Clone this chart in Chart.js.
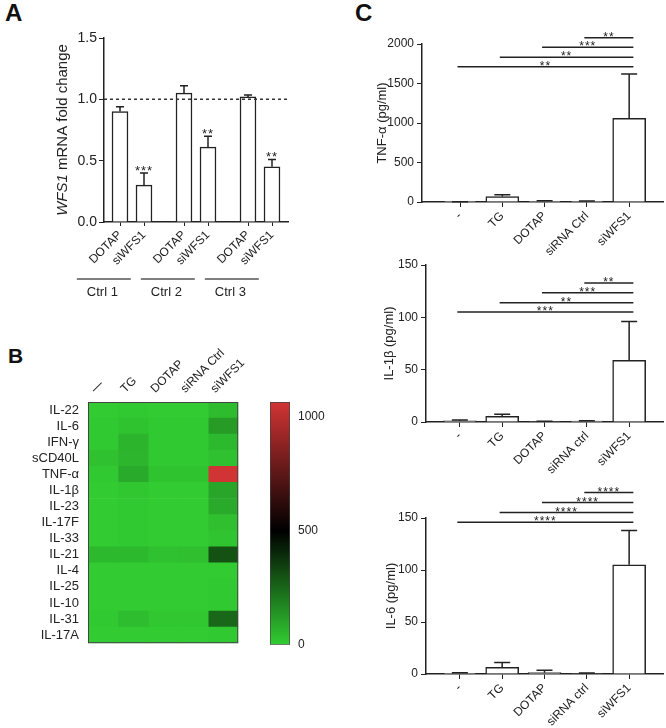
<!DOCTYPE html>
<html>
<head>
<meta charset="utf-8">
<title>WFS1 knockdown and cytokine release</title>
<script src="https://cdn.jsdelivr.net/npm/chart.js"></script>
<style>
  body { margin: 0; background: #fff; width: 666px; height: 728px; position: relative; overflow: hidden;
         font-family: "Liberation Sans", Arial, sans-serif; }
  canvas { position: absolute; }
  .tag { position: absolute; font-weight: bold; color: #111; }
</style>
</head>
<body>
<div class="tag" style="left:5px;top:1px;font-size:24px;line-height:24px">A</div>
<div class="tag" style="left:8px;top:345px;font-size:21px;line-height:21px">B</div>
<div class="tag" style="left:355px;top:1px;font-size:24px;line-height:24px">C</div>

<canvas id="chartA" width="340" height="310" style="left:0;top:0"></canvas>
<canvas id="chartB" width="260" height="330" style="left:0;top:330px"></canvas>
<canvas id="chartBar" width="80" height="330" style="left:260px;top:330px"></canvas>
<canvas id="chartTnf" width="326" height="260" style="left:340px;top:0"></canvas>
<canvas id="chartIl1b" width="326" height="250" style="left:340px;top:240px"></canvas>
<canvas id="chartIl6" width="326" height="258" style="left:340px;top:470px"></canvas>

<script>
Chart.defaults.font.family = '"Liberation Sans", Arial, sans-serif';
Chart.defaults.color = '#222';
Chart.defaults.animation = false;
Chart.defaults.plugins.legend.display = false;
Chart.defaults.plugins.tooltip.enabled = false;

// ---------- panel A : WFS1 mRNA fold change
const aGroups = ['Ctrl 1', 'Ctrl 2', 'Ctrl 3'];
const aTreat = ['DOTAP', 'siWFS1'];
const aMean = [0.90, 0.30, 1.05, 0.61, 1.02, 0.45];
const aErr = [0.04, 0.10, 0.06, 0.09, 0.015, 0.06];
const aStars = ['', '***', '', '**', '', '**'];
const aTicks = [0, 0.5, 1.0, 1.5];

// ---------- panel B : heatmap (pg/ml)
const hmRows = ['IL-22', 'IL-6', 'IFN-γ', 'sCD40L', 'TNF-α', 'IL-1β', 'IL-23', 'IL-17F', 'IL-33', 'IL-21', 'IL-4', 'IL-25', 'IL-10', 'IL-31', 'IL-17A'];
const hmCols = ['—', 'TG', 'DOTAP', 'siRNA Ctrl', 'siWFS1'];
const hmNone   = [5, 10, 10, 30, 10, 5, 5, 5, 5, 50, 5, 5, 5, 10, 5];
const hmTG     = [10, 25, 60, 55, 85, 15, 10, 10, 10, 50, 5, 5, 5, 40, 5];
const hmDOTAP  = [5, 10, 10, 10, 25, 5, 5, 5, 5, 30, 5, 5, 5, 15, 5];
const hmSiCtrl = [5, 10, 10, 10, 25, 5, 5, 5, 5, 35, 5, 5, 5, 15, 5];
const hmSiWFS1 = [45, 120, 50, 30, 1060, 95, 85, 35, 20, 300, 5, 10, 10, 250, 10];
const cbMax = 1065;
const cbTicks = [0, 500, 1000];

// ---------- panel C : cytokines (pg/ml)
const cLabelsTnf = ['-', 'TG', 'DOTAP', 'siRNA Ctrl', 'siWFS1'];
const cLabels = ['-', 'TG', 'DOTAP', 'siRNA ctrl', 'siWFS1'];

const tnfMean = [2, 70, 8, 10, 1060];
const tnfErr = [1, 22, 7, 4, 560];
const tnfTicks = [0, 500, 1000, 1500, 2000];
const tnfSig = [1713, 1832, 1958, 2080];      // vs siWFS1, from '-', TG, DOTAP, siRNA
const tnfStars = ['**', '**', '***', '**'];

const il1bMean = [1, 5.5, 0.5, 0.8, 59];
const il1bErr = [0.8, 1.8, 0.3, 0.4, 37];
const il1bTicks = [0, 50, 100, 150];
const il1bSig = [105, 114, 123.5, 132.8];
const il1bStars = ['***', '**', '***', '**'];

const il6Mean = [0.7, 6.5, 1.3, 0.5, 105];
const il6Err = [0.6, 4.5, 2.2, 0.4, 33];
const il6Ticks = [0, 50, 100, 150];
const il6Sig = [145.9, 155.2, 164.8, 174.4];
const il6Stars = ['****', '****', '****', '****'];

const ink = '#222';
const FONT = '"Liberation Sans", Arial, sans-serif';

function errorBarPlugin(mean, err, cap, stars) {
  return {
    id: 'errorBars',
    afterDatasetsDraw(chart) {
      const ctx = chart.ctx, y = chart.scales.y;
      const bars = chart.getDatasetMeta(0).data;
      ctx.save();
      ctx.strokeStyle = ink;
      ctx.lineWidth = 1.5;
      ctx.fillStyle = ink;
      ctx.font = '13px ' + FONT;
      ctx.letterSpacing = '1px';
      ctx.textAlign = 'center';
      ctx.textBaseline = 'alphabetic';
      bars.forEach((bar, i) => {
        const top = y.getPixelForValue(mean[i] + err[i]);
        ctx.beginPath();
        ctx.moveTo(bar.x, bar.y);
        ctx.lineTo(bar.x, top);
        ctx.moveTo(bar.x - cap / 2, top);
        ctx.lineTo(bar.x + cap / 2, top);
        ctx.stroke();
        if (stars && stars[i]) ctx.fillText(stars[i], bar.x, top + 2);
      });
      ctx.restore();
    }
  };
}

// ---------- A
const aX = i => Math.floor(i / 2) * 8 + (i % 2) * 3;

new Chart(document.getElementById('chartA'), {
  type: 'bar',
  data: {
    datasets: [{
      data: aMean.map((v, i) => ({ x: aX(i), y: v })),
      backgroundColor: '#fff',
      borderColor: ink,
      borderWidth: 1.5,
      barThickness: 16
    }]
  },
  options: {
    responsive: false,
    layout: { padding: { left: 0, right: 52, top: 38, bottom: 0 } },
    scales: {
      x: {
        type: 'linear', min: -2, max: 21, offset: false,
        afterBuildTicks: s => { s.ticks = aMean.map((v, i) => ({ value: aX(i) })); },
        ticks: { autoSkip: false, minRotation: 45, maxRotation: 45, padding: 2, font: { size: 12 },
                 callback: (v, i) => aTreat[i % 2] },
        grid: { drawOnChartArea: false, offset: false, tickLength: 4, color: ink },
        border: { color: ink, width: 1.5 },
        afterFit: s => { s.height = 88; }
      },
      y: {
        min: 0, max: 1.5,
        afterBuildTicks: s => { s.ticks = aTicks.map(v => ({ value: v })); },
        ticks: { font: { size: 14 }, padding: 2, callback: v => v.toFixed(1) },
        grid: { drawOnChartArea: false, tickLength: 5, color: ink },
        border: { color: ink, width: 1.5 },
        afterFit: s => { s.width = 104; }
      }
    }
  },
  plugins: [
    errorBarPlugin(aMean, aErr, 8, aStars),
    {
      id: 'panelA',
      afterDraw(chart) {
        const { ctx, chartArea: ca, scales: { x, y } } = chart;
        ctx.save();
        // reference line at 1.0
        ctx.strokeStyle = '#333';
        ctx.lineWidth = 1.5;
        ctx.setLineDash([3, 3]);
        ctx.beginPath();
        ctx.moveTo(ca.left, y.getPixelForValue(1));
        ctx.lineTo(ca.right, y.getPixelForValue(1));
        ctx.stroke();
        ctx.setLineDash([]);
        // group lines and labels
        ctx.strokeStyle = '#555';
        ctx.fillStyle = ink;
        ctx.font = '13px ' + FONT;
        ctx.textAlign = 'center';
        ctx.textBaseline = 'middle';
        aGroups.forEach((g, k) => {
          const x0 = aX(2 * k);
          ctx.beginPath();
          ctx.moveTo(x.getPixelForValue(x0 - 5.4), ca.bottom + 57);
          ctx.lineTo(x.getPixelForValue(x0 + 1.35), ca.bottom + 57);
          ctx.stroke();
          ctx.fillText(g, x.getPixelForValue(x0 - 2.2), ca.bottom + 70);
        });
        // y title with italic gene name
        ctx.translate(63, (ca.top + ca.bottom) / 2);
        ctx.rotate(-Math.PI / 2);
        ctx.textAlign = 'left';
        const it = 'italic 15px ' + FONT, rg = '15px ' + FONT;
        ctx.font = it; const w1 = ctx.measureText('WFS1').width;
        ctx.font = rg; const w2 = ctx.measureText(' mRNA fold change').width;
        const x1 = -(w1 + w2) / 2;
        ctx.font = it; ctx.fillText('WFS1', x1, 0);
        ctx.font = rg; ctx.fillText(' mRNA fold change', x1 + w1, 0);
        ctx.restore();
      }
    }
  ]
});

// ---------- B heatmap
const hmValues = [hmNone, hmTG, hmDOTAP, hmSiCtrl, hmSiWFS1];
const cGreen = [50, 205, 50], cRed = [210, 52, 52];
function hmColor(v) {
  let c, t;
  if (v <= 500) { t = 1 - v / 500; c = cGreen; }
  else { t = Math.min(1, (v - 500) / (cbMax - 500)); c = cRed; }
  return 'rgb(' + c.map(k => Math.round(k * t)).join(',') + ')';
}

new Chart(document.getElementById('chartB'), {
  type: 'bar',
  data: {
    labels: hmRows,
    datasets: hmValues.map(col => ({
      data: hmRows.map(() => 1),
      backgroundColor: col.map(hmColor),
      borderWidth: 0,
      barPercentage: 1,
      categoryPercentage: 1
    }))
  },
  options: {
    indexAxis: 'y',
    responsive: false,
    layout: { padding: { left: 0, right: 11, top: 0, bottom: 15 } },
    scales: {
      x: {
        type: 'linear', position: 'top', stacked: true, min: 0, max: 5,
        afterBuildTicks: s => { s.ticks = hmCols.map((c, j) => ({ value: j + 0.5 })); },
        ticks: { autoSkip: false, minRotation: 45, maxRotation: 45, padding: 6, font: { size: 12 },
                 callback: (v, i) => hmCols[i] },
        grid: { display: false, drawTicks: false },
        border: { display: false },
        afterFit: s => { s.height = 72; }
      },
      y: {
        stacked: true,
        ticks: { autoSkip: false, padding: 9, font: { size: 13 } },
        grid: { display: false, drawTicks: false },
        border: { display: false },
        afterFit: s => { s.width = 88; }
      }
    }
  },
  plugins: [{
    id: 'outline',
    afterDatasetsDraw(chart) {
      const { ctx, chartArea: ca } = chart;
      ctx.save();
      ctx.strokeStyle = '#444';
      ctx.lineWidth = 1;
      ctx.strokeRect(ca.left + 0.5, ca.top + 0.5, ca.right - ca.left - 1, ca.bottom - ca.top - 1);
      ctx.restore();
    }
  }]
});

// colour bar
new Chart(document.getElementById('chartBar'), {
  type: 'bar',
  data: {
    labels: [''],
    datasets: [{
      data: [cbMax],
      backgroundColor: c => {
        const ch = c.chart;
        if (!ch.chartArea) return '#000';
        const y = ch.scales.y;
        const g = ch.ctx.createLinearGradient(0, y.getPixelForValue(0), 0, y.getPixelForValue(cbMax));
        g.addColorStop(0, hmColor(0));
        g.addColorStop(500 / cbMax, hmColor(500));
        g.addColorStop(1, hmColor(cbMax));
        return g;
      },
      borderColor: '#444',
      borderWidth: 1,
      borderSkipped: false,
      barPercentage: 1,
      categoryPercentage: 1
    }]
  },
  options: {
    responsive: false,
    layout: { padding: { left: 10, right: 0, top: 72, bottom: 15 } },
    scales: {
      x: { display: false },
      y: {
        position: 'right', min: 0, max: cbMax,
        afterBuildTicks: s => { s.ticks = cbTicks.map(v => ({ value: v })); },
        ticks: { padding: 8, font: { size: 12 }, callback: v => String(v) },
        grid: { display: false, drawTicks: false },
        border: { display: false },
        afterFit: s => { s.width = 50; }
      }
    }
  }
});

// ---------- C
function cytokineChart(id, labels, mean, err, ticks, sig, stars, title, lay) {
  new Chart(document.getElementById(id), {
    type: 'bar',
    data: {
      datasets: [{
        data: mean.map((v, i) => ({ x: i, y: v })),
        backgroundColor: '#fff',
        borderColor: ink,
        borderWidth: 1.5,
        barThickness: 33
      }]
    },
    options: {
      responsive: false,
      layout: { padding: { left: lay.left, right: 3, top: lay.top, bottom: 0 } },
      scales: {
        x: {
          type: 'linear', min: lay.xmin, max: 4.8, offset: false,
          afterBuildTicks: s => { s.ticks = labels.map((l, i) => ({ value: i })); },
          ticks: { autoSkip: false, minRotation: 45, maxRotation: 45, padding: 2, font: { size: 12 },
                   callback: (v, i) => labels[i] },
          grid: { drawOnChartArea: false, offset: false, tickLength: 5, color: ink },
          border: { color: ink, width: 1.5 },
          afterFit: s => { s.height = lay.xh; }
        },
        y: {
          min: 0, max: ticks[ticks.length - 1],
          afterBuildTicks: s => { s.ticks = ticks.map(v => ({ value: v })); },
          ticks: { font: { size: 12 }, padding: 3, callback: v => String(v) },
          grid: { drawOnChartArea: false, tickLength: 5, color: ink },
          border: { color: ink, width: 1.5 },
          title: { display: true, text: title, font: { size: 13 }, padding: { top: 4, bottom: 0 } },
          afterFit: s => { s.width = lay.yw; }
        }
      }
    },
    plugins: [
      errorBarPlugin(mean, err, 16, null),
      {
        id: 'sigLines',
        afterDraw(chart) {
          const { ctx, scales: { x, y } } = chart;
          const last = labels.length - 1;
          ctx.save();
          ctx.strokeStyle = ink;
          ctx.fillStyle = ink;
          ctx.lineWidth = 1.5;
          ctx.font = '12px ' + FONT;
          ctx.letterSpacing = '1px';
          ctx.textAlign = 'center';
          ctx.textBaseline = 'alphabetic';
          sig.forEach((h, i) => {
            const x1 = x.getPixelForValue(i - 0.06), x2 = x.getPixelForValue(last + 0.1);
            const py = y.getPixelForValue(h);
            ctx.beginPath();
            ctx.moveTo(x1, py);
            ctx.lineTo(x2, py);
            ctx.stroke();
            ctx.fillText(stars[i], (x1 + x2) / 2, py + 3);
          });
          ctx.restore();
        }
      }
    ]
  });
}

cytokineChart('chartTnf', cLabelsTnf, tnfMean, tnfErr, tnfTicks, tnfSig, tnfStars, 'TNF-α (pg/ml)',
  { left: 31, top: 44, yw: 51, xh: 58, xmin: -0.9 });
cytokineChart('chartIl1b', cLabels, il1bMean, il1bErr, il1bTicks, il1bSig, il1bStars, 'IL-1β (pg/ml)',
  { left: 38, top: 25, yw: 48, xh: 68, xmin: -0.8 });
cytokineChart('chartIl6', cLabels, il6Mean, il6Err, il6Ticks, il6Sig, il6Stars, 'IL-6 (pg/ml)',
  { left: 40, top: 48, yw: 46, xh: 54, xmin: -0.8 });
</script>
</body>
</html>
